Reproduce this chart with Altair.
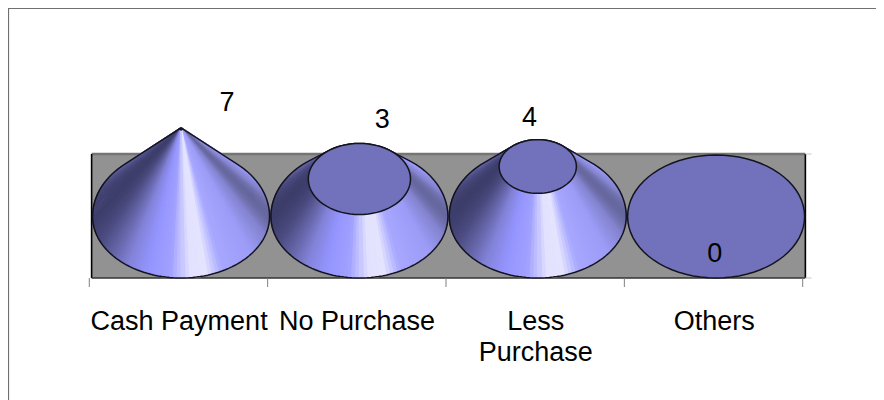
import math
import altair as alt
import numpy as np
import pandas as pd

# ---- chart values ----
categories = ["Cash Payment", "No Purchase", "Less\nPurchase", "Others"]
values = [7, 3, 4, 0]
value_labels = ["7", "3", "4", "0"]
tick_positions = [0, 1, 2, 3, 4]

# ---- layout of the pseudo-3D scene, in data units ----
AXIS_MAX = 7.1          # value at which a cone would close to a point
BASE_RX = 88.5 / 178.35 # base radius in category units
BASE_RY = 61.5 / 12.5   # base radius in value units
BACK_BULGE = 1.1        # the rear of a cone's base sits a little higher
CONE_SHIFT = 0.0145
WALL_X = (0.013, 4.015)
WALL_Y = (-BASE_RY, 5.0)
X_DOMAIN = [-0.4558, 4.4110]
Y_DOMAIN = [-14.68, 16.68]
LABEL_DX = [0.2575, 0.1275, -0.0465, -0.0070]
LABEL_Y = [9.05, 7.70, 7.87, -3.02]
CAT_X = [0.5035, 1.5015, 2.5035, 3.5035]
CAT_Y = -8.40
FONT = "Liberation Sans"
FONT_SIZE = 27

SHADE_T = [-1.0, -0.93, -0.80, -0.60, -0.38, -0.12, 0.02, 0.10, 0.28, 0.46, 0.80, 0.95, 1.0]
SHADE_R = [0x3e, 0x48, 0x60, 0x82, 0x94, 0xa0, 0xc8, 0xe2, 0xe4, 0xa8, 0x9c, 0x84, 0x68]
SHADE_B = [0x6c, 0x7c, 0xa0, 0xd8, 0xff, 0xff, 0xff, 0xff, 0xff, 0xff, 0xf8, 0xd0, 0xa0]


def shade(t):
    r = float(np.interp(t, SHADE_T, SHADE_R))
    b = float(np.interp(t, SHADE_T, SHADE_B))
    return "#%02x%02x%02x" % (round(r), round(r), round(b))


def radii(v):
    k = 1 - v / AXIS_MAX
    return BASE_RX * k, BASE_RY * k


def hull(points):
    pts = sorted(set(points))

    def half(seq):
        out = []
        for p in seq:
            while len(out) > 1 and (out[-1][0] - out[-2][0]) * (p[1] - out[-2][1]) - (out[-1][1] - out[-2][1]) * (p[0] - out[-2][0]) <= 0:
                out.pop()
            out.append(p)
        return out[:-1]

    ring = half(pts) + half(pts[::-1])
    return ring + ring[:1]


def base_point(cx, a):
    s = math.sin(a)
    return cx + BASE_RX * math.cos(a), BASE_RY * s * (BACK_BULGE if s > 0 else 1)


# Cone sides: one thin quad per angle step, back to front
N = 144
wedges = []
shells = []
for i, v in enumerate(values):
    if v == 0:
        continue
    cx = i + 0.5 + CONE_SHIFT
    rx, ry = radii(v)
    steps = sorted(range(N), key=lambda k: -math.sin(2 * math.pi * (k + 0.5) / N))
    all_pts = []
    for rank, k in enumerate(steps):
        a0, a1 = 2 * math.pi * k / N, 2 * math.pi * (k + 1) / N
        col = shade(math.cos((a0 + a1) / 2))
        corners = [
            base_point(cx, a0),
            base_point(cx, a1),
            (cx + rx * math.cos(a1), v + ry * math.sin(a1)),
            (cx + rx * math.cos(a0), v + ry * math.sin(a0)),
            base_point(cx, a0),
        ]
        all_pts.extend(corners)
        for o, (px, py) in enumerate(corners):
            wedges.append({"w": f"{i}-{rank:03d}", "o": o, "x": px, "y": py, "c": col})
    for o, (px, py) in enumerate(hull(all_pts)):
        shells.append({"i": i, "o": o, "x": px, "y": py})
wedges = pd.DataFrame(wedges)
shells = pd.DataFrame(shells)

# Top faces
tops = []
for i, v in enumerate(values):
    cx = i + 0.5 + CONE_SHIFT
    rx, ry = radii(v)
    for o in range(73):
        a = 2 * math.pi * o / 72
        tops.append({"i": i, "o": o, "x": cx + rx * math.cos(a), "y": v + ry * math.sin(a)})
tops = pd.DataFrame(tops)

x_enc = alt.X("x:Q", scale=alt.Scale(domain=X_DOMAIN, nice=False, zero=False), axis=None)
y_enc = alt.Y("y:Q", scale=alt.Scale(domain=Y_DOMAIN, nice=False, zero=False), axis=None)

# Frame (only top and left visible in the window)
frame_left = alt.Chart(pd.DataFrame({"x": [-0.4530], "y": [Y_DOMAIN[0]], "y2": [Y_DOMAIN[1]]})).mark_rule(
    color="#707070", strokeWidth=1.2).encode(x=x_enc, y=y_enc, y2="y2:Q")
frame_top = alt.Chart(pd.DataFrame({"y": [16.64], "x": [X_DOMAIN[0]], "x2": [X_DOMAIN[1]]})).mark_rule(
    color="#707070", strokeWidth=1.2).encode(x=x_enc, y=y_enc, x2="x2:Q")

wall = alt.Chart(pd.DataFrame({"x": [WALL_X[0]], "x2": [WALL_X[1]], "y": [WALL_Y[0]], "y2": [WALL_Y[1]]})).mark_rect(
    color="#929292").encode(x=x_enc, x2="x2:Q", y=y_enc, y2="y2:Q")
wall_top = alt.Chart(pd.DataFrame({"x": [WALL_X[0]], "x2": [WALL_X[1]], "y": [WALL_Y[1]]})).mark_rule(
    color="#757575", strokeWidth=2.5).encode(x=x_enc, x2="x2:Q", y=y_enc)
wall_sides = alt.Chart(pd.DataFrame({"x": list(WALL_X), "y": [WALL_Y[0]] * 2, "y2": [WALL_Y[1]] * 2})).mark_rule(
    color="#000000", strokeWidth=1.6).encode(x=x_enc, y=y_enc, y2="y2:Q")
floor = alt.Chart(pd.DataFrame({"x": [WALL_X[0]], "x2": [WALL_X[1]], "y": [WALL_Y[0]]})).mark_rule(
    color="#333333", strokeWidth=1.4).encode(x=x_enc, x2="x2:Q", y=y_enc)
ticks = alt.Chart(pd.DataFrame({"x": tick_positions, "y": [WALL_Y[0]] * 5, "y2": [WALL_Y[0] - 0.72] * 5})).mark_rule(
    color="#808080", strokeWidth=1).encode(x=x_enc, y=y_enc, y2="y2:Q")
right_ticks = alt.Chart(pd.DataFrame({"x": [WALL_X[1]] * 2, "x2": [WALL_X[1] + 0.034] * 2, "y": list(WALL_Y)})).mark_rule(
    color="#c8c8c8", strokeWidth=1).encode(x=x_enc, x2="x2:Q", y=y_enc)

under = alt.Chart(shells).mark_line(strokeWidth=0, fill="#55558c").encode(
    x=x_enc, y=y_enc, detail="i:N", order="o:Q")
sides = alt.Chart(wedges).mark_line(strokeWidth=1.2, strokeJoin="round").encode(
    x=x_enc, y=y_enc, detail="w:N", order="o:Q",
    fill=alt.Fill("c:N", scale=None), stroke=alt.Stroke("c:N", scale=None))
outline = alt.Chart(shells).mark_line(strokeWidth=1.5, color="#14141e", strokeJoin="round").encode(
    x=x_enc, y=y_enc, detail="i:N", order="o:Q")
top_faces = alt.Chart(tops).mark_line(
    strokeWidth=1.5, stroke="#14141e", fill="#7272bc").encode(
    x=x_enc, y=y_enc, detail="i:N", order="o:Q")

value_df = pd.DataFrame({
    "x": [i + 0.5 + CONE_SHIFT + d for i, d in enumerate(LABEL_DX)],
    "y": LABEL_Y, "t": value_labels})
value_text = alt.Chart(value_df).mark_text(font=FONT, fontSize=FONT_SIZE, color="#000000", baseline="middle").encode(
    x=x_enc, y=y_enc, text="t:N")

cat_df = pd.DataFrame({"x": CAT_X, "y": [CAT_Y] * 4, "t": categories})
cat_text = alt.Chart(cat_df).mark_text(
    font=FONT, fontSize=FONT_SIZE, color="#000000", baseline="middle", lineBreak="\n", lineHeight=31).encode(
    x=x_enc, y=y_enc, text="t:N")

chart = alt.layer(
    frame_left, frame_top, wall, wall_top, wall_sides, floor, ticks, right_ticks,
    under, sides, outline, top_faces, value_text, cat_text,
).properties(width=868, height=392, padding=0, autosize=alt.AutoSizeParams(type="none")).configure_view(stroke=None)

chart.save("out.html", embed_options={"renderer": "svg", "actions": False})
